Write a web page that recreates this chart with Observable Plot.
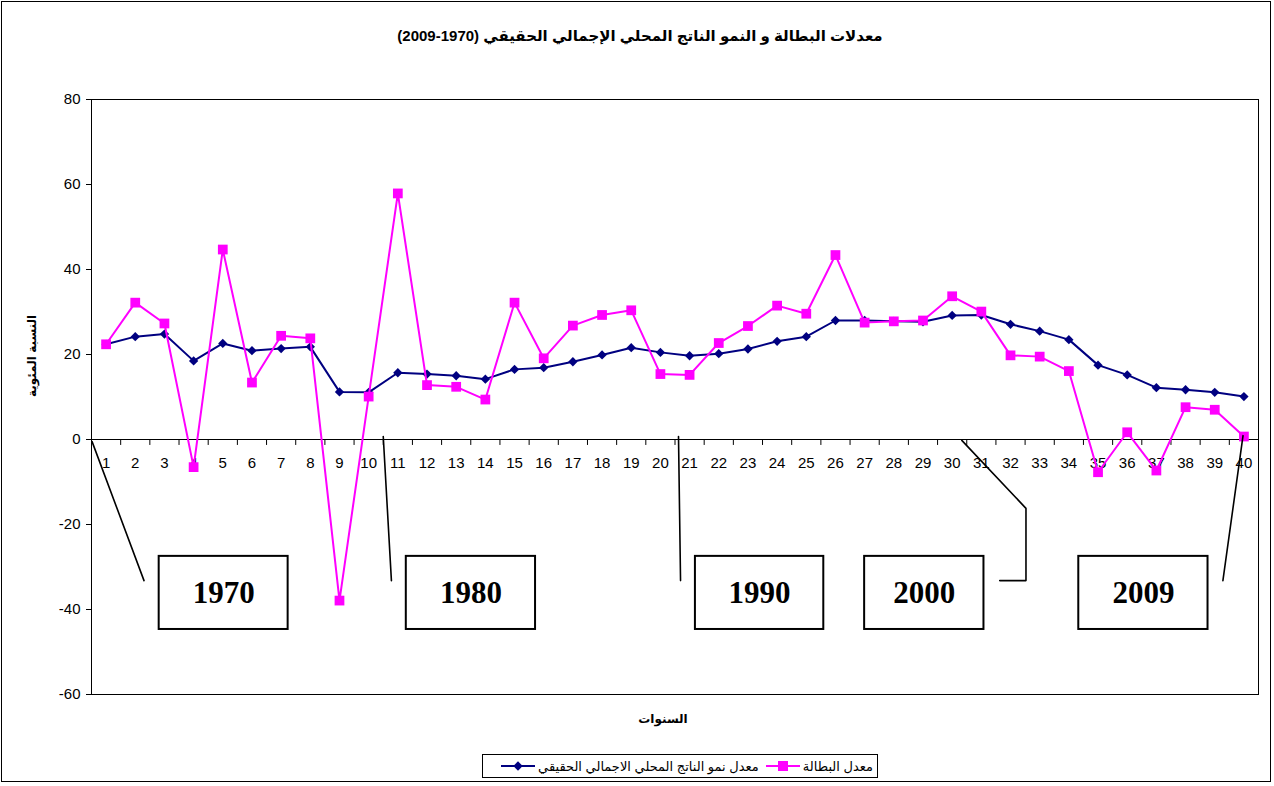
<!DOCTYPE html>
<html><head><meta charset="utf-8">
<script src="https://cdn.jsdelivr.net/npm/d3@7"></script>
<script src="https://cdn.jsdelivr.net/npm/@observablehq/plot@0.6"></script>
<style>
body{margin:0;background:#fff;font-family:"Liberation Sans",Arial,"DejaVu Sans",sans-serif;}
#wrap{position:relative;width:1274px;height:786px;overflow:hidden;}
#border{position:absolute;left:1px;top:1px;width:1270px;height:781px;border:1px solid #000;box-sizing:border-box;}
#title{position:absolute;left:0;top:27px;width:1280px;text-align:center;font-weight:bold;font-size:15px;direction:rtl;}
#chart{position:absolute;left:0;top:60px;}
#legend{position:absolute;left:482px;top:754px;width:396px;height:24px;border:1px solid #000;box-sizing:border-box;display:flex;flex-direction:row;direction:rtl;align-items:center;font-size:13px;padding-right:4px;}
#legend .item{display:flex;align-items:center;direction:rtl;margin-left:4px;}
#legend svg{display:block;margin:0 3px;}
</style>
</head><body>
<div id="wrap">
<div id="border"></div>
<div id="title">معدلات البطالة و النمو الناتج المحلي الإجمالي الحقيقي (1970-2009)</div>
<div id="chart"></div>
<div id="legend"></div>
</div>
<script>
// Categories (year index 1..40)
const periods = [1,2,3,4,5,6,7,8,9,10,11,12,13,14,15,16,17,18,19,20,21,22,23,24,25,26,27,28,29,30,31,32,33,34,35,36,37,38,39,40];
// Real GDP growth rate (navy, diamonds)
const gdpGrowth = [22.4,24.2,24.8,18.5,22.6,20.9,21.4,21.8,11.2,11.1,15.7,15.4,15.0,14.2,16.5,16.9,18.3,19.9,21.6,20.5,19.7,20.2,21.3,23.1,24.2,28.0,28.0,27.8,27.7,29.2,29.3,27.1,25.5,23.5,17.5,15.2,12.2,11.7,11.1,10.1];
// Unemployment rate (magenta, squares)
const unemployment = [22.4,32.2,27.3,-6.5,44.7,13.4,24.4,23.8,-37.9,10.1,57.9,12.8,12.4,9.4,32.2,19.1,26.8,29.3,30.4,15.4,15.2,22.7,26.7,31.5,29.6,43.4,27.5,27.8,28.0,33.7,30.1,19.8,19.5,16.1,-7.7,1.7,-7.3,7.6,7.0,0.7];
const yTicks = [-60,-40,-20,0,20,40,60,80];
const seriesNames = ["معدل نمو الناتج المحلي الاجمالي الحقيقي", "معدل البطالة"];
const yLabel = "النسبة المئوية";
const xLabel = "السنوات";
// Decade annotation boxes (in category / value units)
const yearBoxes = [
  {label:"1970", x1:2.82, x2:7.24, y1:-27.5, y2:-44.7},
  {label:"1980", x1:11.29, x2:15.72, y1:-27.5, y2:-44.7},
  {label:"1990", x1:21.2, x2:25.6, y1:-27.5, y2:-44.7},
  {label:"2000", x1:27.0, x2:31.09, y1:-27.5, y2:-44.7},
  {label:"2009", x1:34.34, x2:38.77, y1:-27.5, y2:-44.7}
];
const leaders = [
  {g:"1970", x:0.52, y:-0.5},{g:"1970", x:2.30, y:-33.2},
  {g:"1980", x:10.50, y:0.7},{g:"1980", x:10.78, y:-33.2},
  {g:"1990", x:20.62, y:0.7},{g:"1990", x:20.69, y:-33.2},
  {g:"2000", x:30.33, y:-0.2},{g:"2000", x:32.53, y:-16.2},{g:"2000", x:32.53, y:-33.2},{g:"2000", x:31.63, y:-33.2},
  {g:"2009", x:39.97, y:0.9},{g:"2009", x:39.28, y:-33.2}
];

const gdpData = periods.map((p,i)=>({p, v: gdpGrowth[i]}));
const unData = periods.map((p,i)=>({p, v: unemployment[i]}));
const boundaries = [0.5, ...periods.map(p=>p+0.5)];

const NAVY = "#000080", MAG = "#FF00FF";
const font = '"Liberation Sans", Arial, "DejaVu Sans", sans-serif';

const chart = Plot.plot({
  width: 1274, height: 690,
  marginTop: 39, marginBottom: 56, marginLeft: 91, marginRight: 16,
  style: {fontFamily: font, fontSize: "15px", background: "transparent", color: "#000"},
  x: {type: "linear", domain: [0.5, 40.5], axis: null},
  y: {domain: [-60, 80], axis: null},
  marks: [
    Plot.frame({stroke: "#000", strokeWidth: 1}),
    Plot.axisY(yTicks, {tickSize: 5, tickPadding: 6, fontSize: 15, label: null, tickFormat: d => String(d)}),
    Plot.ruleY([0], {stroke: "#000", strokeWidth: 1}),
    Plot.ruleX(boundaries, {y1: 0, y2: -1.4, stroke: "#000"}),
    Plot.text(periods, {x: d=>d, y: 0, dy: 24, text: d=>String(d), fontSize: 15}),
    Plot.text([yLabel], {frameAnchor: "left", dx: -59, rotate: -90, fontWeight: "bold", fontSize: 12, text: d=>d}),
    Plot.text([xLabel], {frameAnchor: "bottom", dy: 28, dx: -12, fontWeight: "bold", fontSize: 12, text: d=>d}),
    Plot.line(gdpData, {x: "p", y: "v", stroke: NAVY, strokeWidth: 2}),
    Plot.dot(gdpData, {x: "p", y: "v", symbol: "diamond2", r: 4.2, fill: NAVY, stroke: "none"}),
    Plot.line(unData, {x: "p", y: "v", stroke: MAG, strokeWidth: 2}),
    Plot.dot(unData, {x: "p", y: "v", symbol: "square", r: 5.5, fill: MAG, stroke: "none"}),
    Plot.line(leaders, {x: "x", y: "y", z: "g", stroke: "#000", strokeWidth: 1.6}),
    Plot.rect(yearBoxes, {x1: "x1", x2: "x2", y1: "y1", y2: "y2", fill: "#fff", stroke: "#000", strokeWidth: 2}),
    Plot.text(yearBoxes, {x: d=>(d.x1+d.x2)/2, y: d=>(d.y1+d.y2)/2, text: "label", fontFamily: '"Liberation Serif", "Times New Roman", serif', fontWeight: "bold", fontSize: 31})
  ]
});
document.getElementById("chart").appendChild(chart);

// Legend (RTL): unemployment first (right), then GDP
function swatch(color, shape){
  const ns = "http://www.w3.org/2000/svg";
  const s = document.createElementNS(ns, "svg");
  s.setAttribute("width", 34); s.setAttribute("height", 14);
  const l = document.createElementNS(ns, "line");
  l.setAttribute("x1", 0); l.setAttribute("x2", 34); l.setAttribute("y1", 7); l.setAttribute("y2", 7);
  l.setAttribute("stroke", color); l.setAttribute("stroke-width", 2);
  s.appendChild(l);
  const m = document.createElementNS(ns, "path");
  m.setAttribute("d", shape === "square" ? "M12,2H22V12H12Z" : "M17,2.3L21.7,7L17,11.7L12.3,7Z");
  m.setAttribute("fill", color);
  s.appendChild(m);
  return s;
}
const legend = document.getElementById("legend");
[[seriesNames[1], MAG, "square"], [seriesNames[0], NAVY, "diamond"]].forEach(([name, color, shape]) => {
  const it = document.createElement("div"); it.className = "item";
  const t = document.createElement("span"); t.textContent = name;
  it.appendChild(t); it.appendChild(swatch(color, shape));
  legend.appendChild(it);
});
</script>
</body></html>
